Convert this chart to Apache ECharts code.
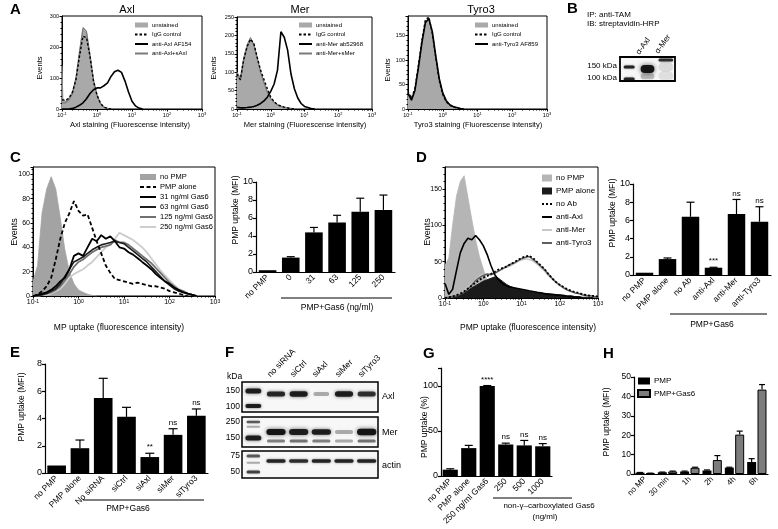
<!DOCTYPE html>
<html><head><meta charset="utf-8">
<script src="https://cdn.jsdelivr.net/npm/echarts@6/dist/echarts.min.js"></script>
<style>html,body{margin:0;padding:0;background:#fff}#c{width:778px;height:529px}</style>
</head><body><div id="c"></div>
<script>
// ---------- DATA ----------
// histogram bins (fluorescence intensity), panel A has an extra first-bin edge
const binsA = [0.1,0.106,0.126,0.158,0.2,0.251,0.316,0.398,0.501,0.631,0.794,1,1.26,1.58,2,2.51,3.16,3.98,5.01,6.31,7.94,10,12.6,15.8,20,25.1];
const bins = [0.1,0.126,0.158,0.2,0.251,0.316,0.398,0.501,0.631,0.794,1,1.26,1.58,2,2.51,3.16,3.98,5.01,6.31,7.94,10,12.6,15.8,20,25.1,31.6,39.8,50.1,63.1,79.4,100,126,158,200,251,316,398,501,631,794,1000];

// Panel A - Axl
const axlUnstained = [140,30,25,35,55,100,180,255,245,165,85,40,15,6,2,0];
const axlIgG       = [30,30,28,35,55,95,170,235,230,170,90,45,18,6,2,0];
const axlBlocked   = [20,20,20,30,50,100,185,262,250,175,95,45,18,6,2,0];
const axlAb        = [0,0,0,0,2,6,12,20,33,50,62,68,68,75,84,105,120,125,118,90,55,25,10,3,0];
// Panel A - Mer
const merUnstained = [100,95,85,140,175,195,175,135,100,70,45,28,18,12,8,5,3,2,0];
const merIgG       = [95,90,80,135,170,190,178,140,105,80,55,32,20,12,8,5,3,1,0];
const merBlocked   = [90,88,78,130,168,188,175,138,100,72,46,28,18,11,7,4,2,1,0];
const merAb        = [5,4,3,3,4,5,7,10,15,22,32,48,68,105,210,195,160,95,55,30,15,7,4,1,0];
// Panel A - Tyro3
const tyUnstained = [35,30,20,40,88,138,178,183,150,100,55,27,14,7,4,2,1,0];
const tyIgG       = [38,32,22,42,90,140,182,188,155,105,58,30,15,8,4,2,1,0];
const tyAb        = [33,28,18,38,85,135,176,185,158,108,62,33,17,9,5,3,1,0];
// Panel C histogram
const cNoPMP = [12,25,68,88,98,88,64,38,20,10,5,3,1.5,0.5,0];
const cAlone = [0,1,4,8,15,30,47,60,68,78,70,66,67,56,45,35,25,19,14,13,12,11,10,11,10,9,8,8,7,6,4,3,2,1,0];
const c31  = [0,1,2,3,5,8,12,15,22,33,35,33,40,47,45,50,47,49,45,40,39,36,34,31,28,25,22,18,15,12,10,7,5,3,2,1,0];
const c63  = [0,0,1,2,4,6,10,16,22,28,30,32,35,38,40,42,43,44,45,44,43,40,37,34,31,28,24,20,16,12,9,6,4,3,2,1,0];
const c125 = [0,0,1,2,3,5,8,13,18,24,28,30,33,36,38,40,41,42,46,44,44,42,39,36,33,30,27,23,19,15,11,8,5,4,2,1,0];
const c250 = [0,0,1,1,2,4,6,10,15,18,20,22,25,28,32,36,40,43,47,52,50,48,46,43,40,36,31,26,21,17,13,9,6,4,2,1,0];
// Panel D histogram
const dNoPMP = [45,55,100,140,160,168,138,108,80,57,40,23,13,8,5,3,2,0];
const dAlone = [0,1,2,3,5,7,10,14,17,20,23,25,27,29,27,23,19,16,14,12,11,10,9,8,8,7,6,6,5,5,4,4,3,3,2,2,1,1,1,0];
const dNoAb  = [0,1,2,4,6,9,13,17,21,25,28,30,33,36,39,41,43,46,49,52,55,57,58,55,50,45,40,33,27,22,18,15,12,10,8,7,5,4,3,3,2];
const dAxl   = [20,5,12,38,62,75,82,80,86,80,72,60,45,32,25,20,17,15,14,13,12,11,10,9,8,7,6,5,5,4,4,3,2,2,1,1,0];
const dMer   = [0,1,2,4,6,10,15,20,25,30,33,32,33,35,38,40,42,44,47,50,52,54,53,51,47,42,37,31,26,21,17,14,11,9,7,6,5,4,3,2,2];
const dTyro  = [0,1,2,3,5,8,12,18,24,28,31,33,32,34,37,40,43,46,48,51,54,56,57,53,49,44,39,33,27,22,18,14,11,9,7,6,4,3,3,2,1];

// Panel C bars
const cCats = ['no PMP','0','31','63','125','250'];
const cVals = [0.2,1.6,4.4,5.5,6.7,6.9];
const cErrs = [0.03,0.1,0.55,0.8,1.5,1.65];
// Panel D bars
const dCats = ['no PMP','PMP alone','no Ab','anti-Axl','anti-Mer','anti-Tyro3'];
const dVals = [0.25,1.75,6.4,0.8,6.7,5.85];
const dErrs = [0.03,0.12,1.6,0.05,1.6,1.65];
const dSig  = ['','','','***','ns','ns'];
// Panel E bars
const eCats = ['no PMP','PMP alone','No siRNA','siCtrl','siAxl','siMer','siTyro3'];
const eVals = [0.55,1.82,5.5,4.12,1.17,2.8,4.2];
const eErrs = [0.03,0.6,1.45,0.7,0.28,0.45,0.5];
const eSig  = ['','','','','**','ns','ns'];
// Panel G bars
const gCats = ['no PMP','PMP alone','250 ng/ml Gas6','250','500','1000'];
const gVals = [7,31,100,35,34,33];
const gErrs = [1,3,0.5,1.5,5.5,3];
const gSig  = ['','','****','ns','ns','ns'];
// Panel H grouped bars
const hCats = ['no MP','30 min','1h','2h','4h','6h'];
const hPMP = [0.7,0.9,1.3,1.8,3.3,6.2];
const hPMPErr = [0.1,0.1,0.2,0.3,0.2,1.7];
const hGas = [0.4,1.3,3.2,7.2,20.3,43.5];
const hGasErr = [0.05,0.2,0.3,2.3,1.8,2.6];

// Blots: [lane, kDa, intensity, thickness, width fraction]
const bLanes = ['ladder','α-Axl','α-Mer'];
const bBands = [[0,150,0.85,3,0.6],[0,100,0.85,3,0.6],[1,140,0.95,8,0.75],[1,110,0.25,6,0.75],[2,190,0.8,3,0.8],[2,150,0.12,10,0.8],[2,112,0.1,8,0.8]];
const fLanes = ['ladder','no siRNA','siCtrl','siAxl','siMer','siTyro3'];
const fAxlBands = [[0,150,0.9,5,0.7],[0,100,0.9,4,0.7],[1,138,0.85,5,0.8],[2,138,0.9,5.5,0.8],[3,138,0.3,4,0.7],[4,138,0.9,5.5,0.8],[5,138,0.8,5,0.8]];
const fMerBands = [[0,250,0.6,2.5,0.6],[0,215,0.3,2,0.6],[0,150,0.9,5,0.7],[1,181,0.95,6,0.85],[2,181,0.9,6,0.85],[3,181,0.9,5.5,0.85],[4,181,0.3,4,0.8],[5,181,0.95,6.5,0.85],[1,136,0.45,3,0.8],[2,136,0.5,3,0.8],[3,136,0.45,3,0.8],[4,136,0.3,3,0.8],[5,136,0.5,3,0.8]];
const fActinBands = [[0,75,0.6,3,0.6],[0,63,0.3,2,0.6],[0,50,0.7,3,0.6],[1,66,0.85,3.5,0.85],[2,66,0.8,3.5,0.85],[3,66,0.85,3.5,0.85],[4,66,0.85,3.5,0.85],[5,66,0.85,3.5,0.85]];

// ---------- BUILD ----------
const FONT = '"Liberation Sans", Arial, Helvetica, sans-serif';
const grids = [], xAxes = [], yAxes = [], series = [], graphics = [];

function logLabel(fs) {
  return {
    color:'#000', fontFamily:FONT, fontSize:fs, margin:3,
    formatter: v => '{b|10}{s|' + Math.round(Math.log10(v)) + '}',
    rich: {
      b: {fontSize:fs, fontFamily:FONT, color:'#000'},
      s: {fontSize:fs*0.72, fontFamily:FONT, color:'#000', verticalAlign:'top'}
    }
  };
}
function addHist(box, ymax, yint, xs, list, fs) {
  const gi = grids.length;
  grids.push({left:box[0], top:box[1], width:box[2], height:box[3], show:true, borderColor:'#000', borderWidth:1, backgroundColor:'rgba(0,0,0,0)'});
  xAxes.push({gridIndex:gi, type:'log', logBase:10, min:0.1, max:1000,
    axisLine:{show:true, lineStyle:{color:'#000', width:1}},
    axisTick:{show:true, length:2.5, lineStyle:{color:'#000'}},
    minorTick:{show:true, splitNumber:9, length:1.5, lineStyle:{color:'#000'}},
    splitLine:{show:false}, minorSplitLine:{show:false}, axisLabel:logLabel(fs)});
  yAxes.push({gridIndex:gi, type:'value', min:0, max:ymax, interval:yint,
    axisLine:{show:true, lineStyle:{color:'#000', width:1}},
    axisTick:{show:true, length:2.5, lineStyle:{color:'#000'}},
    minorTick:{show:true, splitNumber:5, length:1.5, lineStyle:{color:'#000'}},
    splitLine:{show:false}, minorSplitLine:{show:false},
    axisLabel:{fontSize:fs, color:'#000', fontFamily:FONT, margin:3, formatter: v => (v % yint === 0 ? String(v) : '')}});
  list.forEach(s => {
    const o = {type:'line', name:s.name, xAxisIndex:gi, yAxisIndex:gi,
      data:s.y.map((v,i) => [xs[i], v]), symbol:'none', showSymbol:false, smooth:false,
      z:s.z || 2, color:s.color, itemStyle:{color:s.color},
      lineStyle:{color:s.line || s.color, width:s.w || 1.2, type:s.dash || 'solid'}};
    if (s.fill) o.areaStyle = {color:s.color, opacity:1};
    series.push(o);
  });
}
function errRender(sigs, offset, capW) {
  return function (params, api) {
    const i = api.value(0), v = api.value(1), e = api.value(2);
    const p0 = api.coord([i, v]);
    const p1 = api.coord([i, v + e]);
    const x = p0[0] + offset;
    const ch = [];
    if (e > 0.04) {
      ch.push({type:'line', shape:{x1:x, y1:p0[1], x2:x, y2:p1[1]}, style:{stroke:'#000', lineWidth:1.2}});
      ch.push({type:'line', shape:{x1:x - capW/2, y1:p1[1], x2:x + capW/2, y2:p1[1]}, style:{stroke:'#000', lineWidth:1.2}});
    }
    const s = sigs ? sigs[params.dataIndex] : '';
    if (s) ch.push({type:'text', style:{text:s, x:x, y:p1[1] - 2, align:'center', verticalAlign:'bottom', textAlign:'center', textVerticalAlign:'bottom', fontSize:8, fontFamily:FONT, fill:'#000'}});
    return {type:'group', children:ch};
  };
}
function addBars(box, cats, ymax, yint, list, fs) {
  const gi = grids.length;
  grids.push({left:box[0], top:box[1], width:box[2], height:box[3], show:false});
  xAxes.push({gridIndex:gi, type:'category', data:cats,
    axisLine:{show:true, lineStyle:{color:'#000', width:1.2}}, axisTick:{show:false},
    splitLine:{show:false},
    axisLabel:{interval:0, rotate:45, fontSize:fs, color:'#000', fontFamily:FONT, margin:4}});
  yAxes.push({gridIndex:gi, type:'value', min:0, max:ymax, interval:yint,
    axisLine:{show:true, lineStyle:{color:'#000', width:1.2}},
    axisTick:{show:true, length:3, lineStyle:{color:'#000', width:1.2}},
    splitLine:{show:false},
    axisLabel:{fontSize:fs + 0.5, color:'#000', fontFamily:FONT, margin:3, formatter: v => (v % yint === 0 ? String(v) : '')}});
  list.forEach(s => {
    series.push({type:'bar', name:s.name, xAxisIndex:gi, yAxisIndex:gi, data:s.vals,
      barWidth:s.barWidth || '78%', barGap:s.barGap || '15%',
      itemStyle:{color:s.color || '#000', borderColor:'#000', borderWidth:s.border || 0}, z:2});
    series.push({type:'custom', xAxisIndex:gi, yAxisIndex:gi, z:3,
      renderItem:errRender(s.sigs, s.offset || 0, s.cap || 8),
      data:s.vals.map((v,i) => [i, v, s.errs[i]])});
  });
}
function bandRender(params, api) {
  const c = api.coord([api.value(0), api.value(1)]);
  const w = api.size([1, 0])[0] * api.value(4);
  const h = api.value(3), a = api.value(2);
  return {type:'rect', shape:{x:c[0] - w/2, y:c[1] - h/2, width:w, height:h, r:h/2},
    style:{fill:'rgba(15,15,15,' + a + ')', shadowBlur:Math.max(2, h*0.7), shadowColor:'rgba(0,0,0,' + (a*0.7) + ')'}};
}
function addBlot(box, lanes, ymin, ymax, bands, bw) {
  const gi = grids.length;
  grids.push({left:box[0], top:box[1], width:box[2], height:box[3], show:true, borderColor:'#000', borderWidth:bw, backgroundColor:'#f7f7f7'});
  xAxes.push({gridIndex:gi, type:'category', data:lanes, show:false});
  yAxes.push({gridIndex:gi, type:'log', min:ymin, max:ymax, show:false});
  series.push({type:'custom', xAxisIndex:gi, yAxisIndex:gi, renderItem:bandRender, data:bands, z:2});
}

// Panel A
addHist([62,16,140,93], 300, 100, binsA, [
  {name:'unstained', y:axlUnstained, color:'#a9a9a9', line:'#8a8a8a', fill:true, w:1},
  {name:'anti-Axl+sAxl', y:axlBlocked, color:'#7a7a7a', w:1.2},
  {name:'IgG control', y:axlIgG, color:'#000', w:1.4, dash:[2.5,2]},
  {name:'anti-Axl AF154', y:axlAb, color:'#000', w:1.6}
], 5.5);
addHist([237,17,135,92], 250, 50, binsA, [
  {name:'unstained', y:merUnstained, color:'#a9a9a9', line:'#8a8a8a', fill:true, w:1},
  {name:'anti-Mer+sMer', y:merBlocked, color:'#7a7a7a', w:1.2},
  {name:'IgG control', y:merIgG, color:'#000', w:1.4, dash:[2.5,2]},
  {name:'anti-Mer ab52968', y:merAb, color:'#000', w:1.6}
], 5.5);
addHist([408,16,139,93], 190, 50, binsA, [
  {name:'unstained', y:tyUnstained, color:'#a9a9a9', line:'#8a8a8a', fill:true, w:1},
  {name:'IgG control', y:tyIgG, color:'#000', w:1.4, dash:[2.5,2]},
  {name:'anti-Tyro3 AF859', y:tyAb, color:'#000', w:1.6}
], 5.5);
// Panel C histogram
addHist([33,167,182,129], 106, 20, bins, [
  {name:'no PMP', y:cNoPMP, color:'#a3a3a3', fill:true, w:0.8},
  {name:'250 ng/ml Gas6', y:c250, color:'#cdcdcd', w:1.8},
  {name:'125 ng/ml Gas6', y:c125, color:'#707070', w:1.8},
  {name:'63 ng/ml Gas6', y:c63, color:'#1e1e1e', w:1.6},
  {name:'31 ng/ml Gas6', y:c31, color:'#000', w:1.8},
  {name:'PMP alone', y:cAlone, color:'#000', w:1.8, dash:[4,2.5]}
], 7);
// Panel C bars
addBars([256,182,139,90], cCats, 10, 2, [{vals:cVals, errs:cErrs, barWidth:'76%', cap:8}], 8.5);
// Panel D histogram
addHist([445,167,153,131], 180, 50, bins, [
  {name:'no PMP ', y:dNoPMP, color:'#b5b5b5', fill:true, w:0.8},
  {name:'PMP alone ', y:dAlone, color:'#1a1a1a', fill:true, w:1, z:3},
  {name:'anti-Mer', y:dMer, color:'#c8c8c8', w:1.5, z:4},
  {name:'anti-Tyro3', y:dTyro, color:'#5e5e5e', w:1.5, z:4},
  {name:'no Ab', y:dNoAb, color:'#000', w:1.8, dash:[2,2], z:5},
  {name:'anti-Axl', y:dAxl, color:'#000', w:1.6, z:5}
], 7);
// Panel D bars
addBars([633,184,138,91], dCats, 10, 2, [{vals:dVals, errs:dErrs, sigs:dSig, barWidth:'76%', cap:8}], 8.5);
// Panel E
addBars([45,364,163,109], eCats, 8, 2, [{vals:eVals, errs:eErrs, sigs:eSig, barWidth:'80%', cap:9}], 8.5);
// Panel G
addBars([441,368,111,108], gCats, 120, 50, [{vals:gVals, errs:gErrs, sigs:gSig, barWidth:'82%', cap:8}], 8.5);
// Panel H
addBars([634,377,134,97], hCats, 50, 10, [
  {name:'PMP', vals:hPMP, errs:hPMPErr, color:'#000', barWidth:9, barGap:'15%', offset:-5.2, cap:6},
  {name:'PMP+Gas6', vals:hGas, errs:hGasErr, color:'#7c7c7c', border:1, barWidth:9, barGap:'15%', offset:5.2, cap:6}
], 8);
// Blots
addBlot([620,57,55,24], bLanes, 93.5, 210, bBands, 1.8);
addBlot([242,382,136,30], fLanes, 85, 191, fAxlBands, 1.5);
addBlot([242,417,136,30], fLanes, 112.6, 293, fMerBands, 1.5);
addBlot([242,451,136,27], fLanes, 43, 85, fActinBands, 1.5);

// ---------- TEXT ----------
function T(text, x, y, o) {
  o = o || {};
  graphics.push({type:'text', x:x, y:y, rotation:o.rot || 0, silent:true,
    style:{text:text, fill:'#000', fontFamily:FONT, fontSize:o.fs || 8.5, fontWeight:o.fw || 'normal',
      align:o.al || 'center', verticalAlign:o.va || 'middle', textAlign:o.al || 'center', textVerticalAlign:o.va || 'middle'}});
}
function L(x1, y1, x2, y2) {
  graphics.push({type:'line', silent:true, shape:{x1, y1, x2, y2}, style:{stroke:'#000', lineWidth:1}});
}
const R90 = Math.PI / 2, R45 = Math.PI / 4;
// panel letters
[['A',10,2],['B',567,1],['C',10,150],['D',416,150],['E',10,345],['F',225,345],['G',423,346],['H',603,346]]
  .forEach(p => T(p[0], p[1], p[2], {fs:15, fw:'bold', al:'left', va:'top'}));
// A
T('Axl', 127, 10, {fs:11}); T('Mer', 300, 10, {fs:11}); T('Tyro3', 481, 10, {fs:11});
T('Events', 40, 68, {fs:7.5, rot:R90}); T('Events', 214, 68, {fs:7.5, rot:R90}); T('Events', 388, 70, {fs:7.5, rot:R90});
T('Axl staining (Fluorescense intensity)', 130, 125, {fs:7.5});
T('Mer staining (Fluorescense intensity)', 305, 125, {fs:7.5});
T('Tyro3 staining (Fluorescense intensity)', 478, 125, {fs:7.5});
// B
T('IP: anti-TAM', 587, 15, {fs:8, al:'left'});
T('IB: streptavidin-HRP', 587, 24, {fs:8, al:'left'});
T('150 kDa', 617, 66, {fs:8, al:'right'});
T('100 kDa', 617, 78, {fs:8, al:'right'});
T('α-Axl', 641, 56, {fs:8, al:'left', va:'bottom', rot:0.95});
T('α-Mer', 660, 55, {fs:8, al:'left', va:'bottom', rot:0.95});
// C
T('Events', 15, 232, {fs:9, rot:R90});
T('MP uptake (fluorescence intensity)', 119, 328, {fs:8.5});
T('PMP uptake (MFI)', 236, 210, {fs:8.5, rot:R90});
L(281, 298, 392, 298);
T('PMP+Gas6 (ng/ml)', 337, 308, {fs:8.5});
// D
T('Events', 428, 232, {fs:9, rot:R90});
T('PMP uptake (fluorescence intensity)', 528, 328, {fs:8.5});
T('PMP uptake (MFI)', 613, 213, {fs:8.5, rot:R90});
L(670, 314, 767, 314);
T('PMP+Gas6', 712, 325, {fs:8.5});
// E
T('PMP uptake (MFI)', 22, 407, {fs:8.5, rot:R90});
L(83, 500, 204, 500);
T('PMP+Gas6', 128, 509, {fs:8.5});
// F
T('kDa', 227, 377, {fs:8.5, al:'left'});
[['150',391],['100',407],['250',422],['150',438],['75',456],['50',472]].forEach(p => T(p[0], 240, p[1], {fs:8.5, al:'right'}));
T('Axl', 382, 397, {fs:9, al:'left'}); T('Mer', 382, 433, {fs:9, al:'left'}); T('actin', 382, 466, {fs:9, al:'left'});
[['no siRNA',272],['siCtrl',295],['siAxl',317],['siMer',340],['siTyro3',363]].forEach(p => T(p[0], p[1], 379, {fs:8.5, al:'left', va:'bottom', rot:R45}));
// G
T('PMP uptake (%)', 425, 427, {fs:8.5, rot:R90});
L(493, 498, 572, 498);
T('non-γ–carboxylated Gas6', 549, 506, {fs:8});
T('(ng/ml)', 545, 517, {fs:8});
// H
T('PMP uptake (MFI)', 607, 422, {fs:8.5, rot:R90});

// ---------- LEGENDS ----------
// line entries hide the legend's marker symbol so only the line sample shows
const ln = name => ({name:name, itemStyle:{opacity:0}});
function leg(left, top, data, iw, ih, fs, gap) {
  return {left:left, top:top, orient:'vertical', selectedMode:false, itemWidth:iw, itemHeight:ih, itemGap:gap,
    padding:0, textStyle:{fontSize:fs, fontFamily:FONT, color:'#000', padding:[0,0,0,-1]}, data:data};
}
const legends = [
  leg(134, 22, [{name:'unstained', icon:'rect'}, ln('IgG control'), ln('anti-Axl AF154'), ln('anti-Axl+sAxl')], 13, 5, 6, 3.5),
  leg(298, 22, [{name:'unstained', icon:'rect'}, ln('IgG control'), ln('anti-Mer ab52968'), ln('anti-Mer+sMer')], 13, 5, 6, 3.5),
  leg(474, 22, [{name:'unstained', icon:'rect'}, ln('IgG control'), ln('anti-Tyro3 AF859')], 13, 5, 6, 3.5),
  leg(139, 173, [{name:'no PMP', icon:'rect'}, ln('PMP alone'), ln('31 ng/ml Gas6'), ln('63 ng/ml Gas6'), ln('125 ng/ml Gas6'), ln('250 ng/ml Gas6')], 16, 6, 7.5, 2),
  leg(541, 174, [{name:'no PMP ', icon:'rect'}, {name:'PMP alone ', icon:'rect'}, ln('no Ab'), ln('anti-Axl'), ln('anti-Mer'), ln('anti-Tyro3')], 10, 7, 8, 5),
  leg(637, 377, [{name:'PMP', icon:'rect'}, {name:'PMP+Gas6', icon:'rect'}], 12, 7, 8, 4)
];

const chart = echarts.init(document.getElementById('c'), null, {renderer:'canvas'});
chart.setOption({
  animation:false,
  backgroundColor:'#fff',
  textStyle:{fontFamily:FONT},
  grid:grids, xAxis:xAxes, yAxis:yAxes, series:series, legend:legends, graphic:graphics,
  tooltip:{show:false}
});
</script></body></html>
